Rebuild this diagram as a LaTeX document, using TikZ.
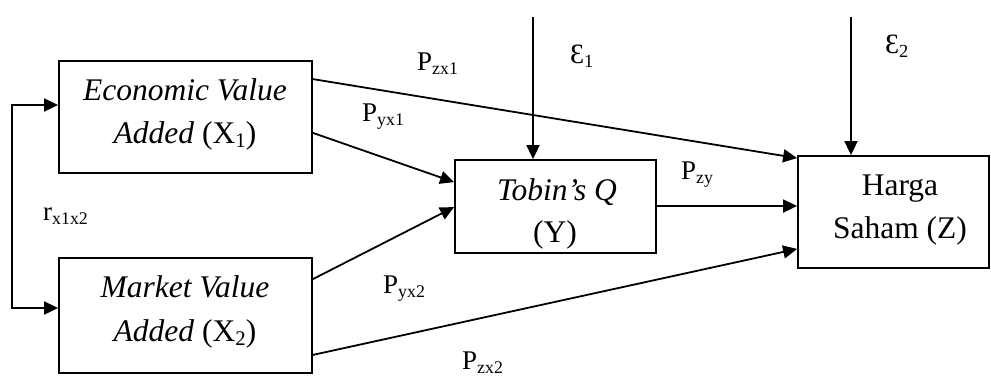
\documentclass[tikz,border=0pt]{standalone}
\usepackage{fontspec}
\setmainfont{Liberation Serif}
\usetikzlibrary{arrows.meta,calc}
\newcommand{\lsub}[1]{\raisebox{-0.15em}{\scalebox{0.66}{#1}}}
\begin{document}
\begin{tikzpicture}[x=1pt,y=-1pt,
  box/.style={draw,line width=1.8pt,inner sep=0pt},
  bt/.style={font=\fontsize{31.5}{36}\selectfont,anchor=base,inner sep=0pt},
  lab/.style={font=\fontsize{27}{30}\selectfont,anchor=base west,inner sep=0pt},
  eps/.style={font=\fontsize{28}{32}\selectfont,anchor=base west,inner sep=0pt},
  arr/.style={line width=1.8pt,-{Triangle[length=14pt,width=13pt]}},
  dbl/.style={line width=1.8pt,{Triangle[length=14pt,width=13pt]}-{Triangle[length=14pt,width=13pt]}}
]
\useasboundingbox (0,0) rectangle (991,378);
\clip (0,0) rectangle (991,378);
% boxes
\node[box,minimum width=253pt,minimum height=112pt] (eva) at (185.5,117) {};
\node[box,minimum width=253pt,minimum height=115pt] (mva) at (185.5,315.5) {};
\node[box,minimum width=201pt,minimum height=93pt] (tob) at (555.5,206.5) {};
\node[box,minimum width=191pt,minimum height=112pt] (hs) at (893.5,212) {};
% box texts
\node[bt] (eva1) at (185,100) {\itshape Economic Value};
\node[bt] (eva2) at (185,143) {\textit{Added} (X\lsub{1})};
\node[bt] (mva1) at (185,297) {\itshape Market Value};
\node[bt] (mva2) at (185,341) {\textit{Added} (X\lsub{2})};
\node[bt] (tob1) at (557,200) {\itshape Tobin’s Q};
\node[bt] (tob2) at (555,242) {(Y)};
\node[bt] (hs1) at (900,195) {Harga};
\node[bt] (hs2) at (900,238) {Saham (Z)};
% labels
\node[lab] (pzx1) at (417,70) {P\lsub{zx1}};
\node[lab] (pyx1) at (362,121) {P\lsub{yx1}};
\node[lab] (pzy) at (681,179) {P\lsub{zy}};
\node[lab] (pyx2) at (383,293) {P\lsub{yx2}};
\node[lab] (pzx2) at (462,369) {P\lsub{zx2}};
\node[lab] (rx) at (43,220) {r\lsub{x1x2}};
\node[eps] (e1l) at (570,63) {Ɛ\lsub{1}};
\node[eps] (e2l) at (885,53) {Ɛ\lsub{2}};
% coordinates
\coordinate (c1) at (12,105);
\coordinate (c2) at (12,308);
\coordinate (e1) at (533,17);
\coordinate (e2) at (851,17);
% connectors
\draw[dbl] (c1 -| eva.west) -- (c1) -- (c2) -- (c2 -| mva.west);
\draw[arr] ([yshift=-19pt]eva.north east) -- ([yshift=-3pt]hs.north west);
\draw[arr] ([yshift=41pt]eva.south east) -- ([yshift=-23pt]tob.north west);
\draw[arr] ([yshift=-22pt]mva.north east) -- ([yshift=-48pt]tob.north west);
\draw[arr] ([yshift=19pt]mva.south east) -- ([yshift=20pt]hs.south west);
\draw[arr] ([yshift=0.5pt]tob.east) -- ([yshift=0.5pt]tob.east -| hs.west);
\draw[arr] (e1) -- (e1 |- tob.north);
\draw[arr] (e2) -- (e2 |- hs.north);
\end{tikzpicture}
\end{document}
